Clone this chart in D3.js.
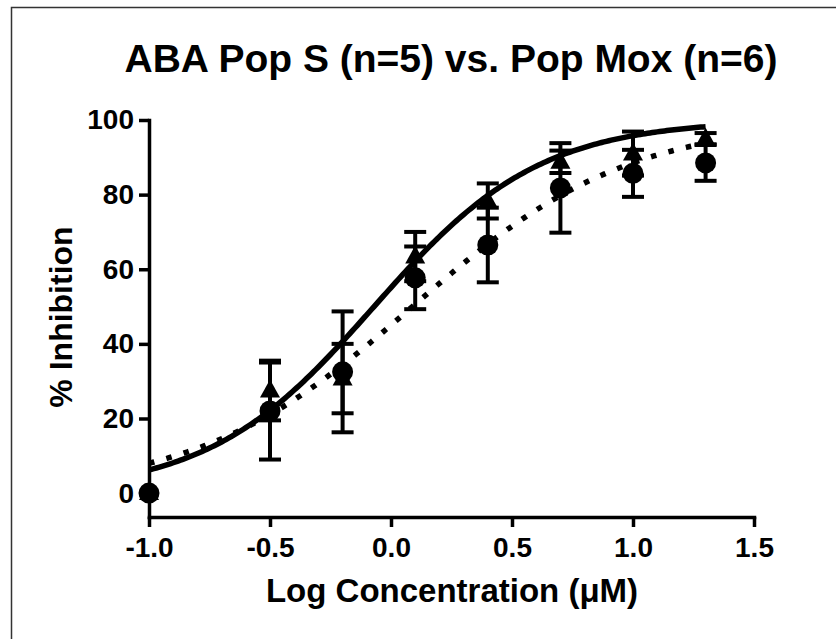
<!DOCTYPE html>
<html>
<head>
<meta charset="utf-8">
<script src="https://cdn.jsdelivr.net/npm/d3@7"></script>
<style>
  html, body { margin: 0; padding: 0; background: #fff; }
  svg { display: block; font-family: "Liberation Sans", Arial, Helvetica, sans-serif; font-weight: bold; }
</style>
</head>
<body>
<svg id="chart" width="836" height="639"></svg>
<script>
// ---- data ----
const logConc = [-1.0, -0.5, -0.2, 0.1, 0.4, 0.7, 1.0, 1.3];
const circleMean = [0, 22, 32.5, 57.7, 66.5, 81.8, 85.7, 88.5];
const circleErr  = [0, 13, 16.2, 8.4, 10, 12, 6.3, 4.8];
const triMean    = [0, 27.5, 30.7, 63.4, 78.3, 88.8, 91.0, 95.0];
const triErr     = [0, 8, 9.3, 6.6, 4.7, 3.0, 5.9, 1.5];
// fitted sigmoid (bottom 0, top 100): [solid/triangles, dotted/circles]
const fitLogEC50 = [-0.07, 0.089];
const fitHill    = [1.268, 0.974];
const xTicks = [-1.0, -0.5, 0.0, 0.5, 1.0, 1.5];
const yTicks = [0, 20, 40, 60, 80, 100];
const titleText = "ABA Pop S (n=5) vs. Pop Mox (n=6)";
const xLabel = "Log Concentration (\u03BCM)";
const yLabel = "% Inhibition";

const svg = d3.select("#chart");

// frame (left + top edges)
svg.append("path").attr("d", "M11.5,639 L11.5,7.5 L836,7.5")
  .attr("fill", "none").attr("stroke", "#333").attr("stroke-width", 1.5);

const x = d3.scaleLinear().domain([-1.0, 1.5]).range([149, 754]);
const y = d3.scaleLinear().domain([-6.4, 100]).range([517, 120]);

// axes
const yAxis = d3.axisLeft(y).tickValues(yTicks).tickSize(10).tickSizeOuter(0).tickPadding(5)
  .tickFormat(d => String(d));
const xAxis = d3.axisBottom(x).tickValues(xTicks).tickSize(10).tickSizeOuter(0).tickPadding(10)
  .tickFormat(d => d.toFixed(1));

const gy = svg.append("g").attr("transform", "translate(149,0)").call(yAxis);
const gx = svg.append("g").attr("transform", "translate(0,517)").call(xAxis);
[gy, gx].forEach(g => {
  g.select(".domain").attr("stroke", "#000").attr("stroke-width", 3.5).attr("stroke-linecap", "square");
  g.selectAll(".tick line").attr("stroke", "#000").attr("stroke-width", 3.5);
  g.selectAll(".tick text").attr("fill", "#000").attr("font-size", 28).attr("font-weight", "bold")
    .attr("font-family", "'Liberation Sans', Arial, sans-serif");
});

// titles
svg.append("text").attr("x", 451).attr("y", 72).attr("text-anchor", "middle")
  .attr("font-size", 39).text(titleText);
svg.append("text").attr("x", 452).attr("y", 602).attr("text-anchor", "middle")
  .attr("font-size", 33).text(xLabel);
svg.append("text").attr("transform", "translate(72,317) rotate(-90)").attr("text-anchor", "middle")
  .attr("font-size", 32).text(yLabel);

// fitted curves
function curvePts(i) {
  const pts = [];
  for (let k = 0; k <= 230; k++) {
    const lx = -1.0 + k * 0.01;
    pts.push([lx, 100 / (1 + Math.pow(10, (fitLogEC50[i] - lx) * fitHill[i]))]);
  }
  return pts;
}
const line = d3.line().x(d => x(d[0])).y(d => y(d[1]));
svg.append("path").attr("d", line(curvePts(1))).attr("fill", "none")
  .attr("stroke", "#000").attr("stroke-width", 5.5).attr("stroke-dasharray", "5.5,12.5");
svg.append("path").attr("d", line(curvePts(0))).attr("fill", "none")
  .attr("stroke", "#000").attr("stroke-width", 5.5);

// error bars
function errorBars(means, errs) {
  const g = svg.append("g").attr("stroke", "#000").attr("stroke-width", 4);
  logConc.forEach((lx, i) => {
    if (errs[i] <= 0) return;
    const cx = x(lx), top = y(means[i] + errs[i]), bot = y(means[i] - errs[i]);
    g.append("line").attr("x1", cx).attr("x2", cx).attr("y1", top).attr("y2", bot);
    g.append("line").attr("x1", cx - 11).attr("x2", cx + 11).attr("y1", top).attr("y2", top);
    g.append("line").attr("x1", cx - 11).attr("x2", cx + 11).attr("y1", bot).attr("y2", bot);
  });
}
errorBars(circleMean, circleErr);
errorBars(triMean, triErr);

// markers
svg.append("g").selectAll("path").data(logConc).join("path")
  .attr("d", (d, i) => {
    const cx = x(d), cy = y(triMean[i]);
    return `M${cx},${cy - 11} L${cx + 10},${cy + 7} L${cx - 10},${cy + 7} Z`;
  })
  .attr("fill", "#000");
svg.append("g").selectAll("circle").data(logConc).join("circle")
  .attr("cx", d => x(d)).attr("cy", (d, i) => y(circleMean[i])).attr("r", 10.5)
  .attr("fill", "#000");
</script>
</body>
</html>
